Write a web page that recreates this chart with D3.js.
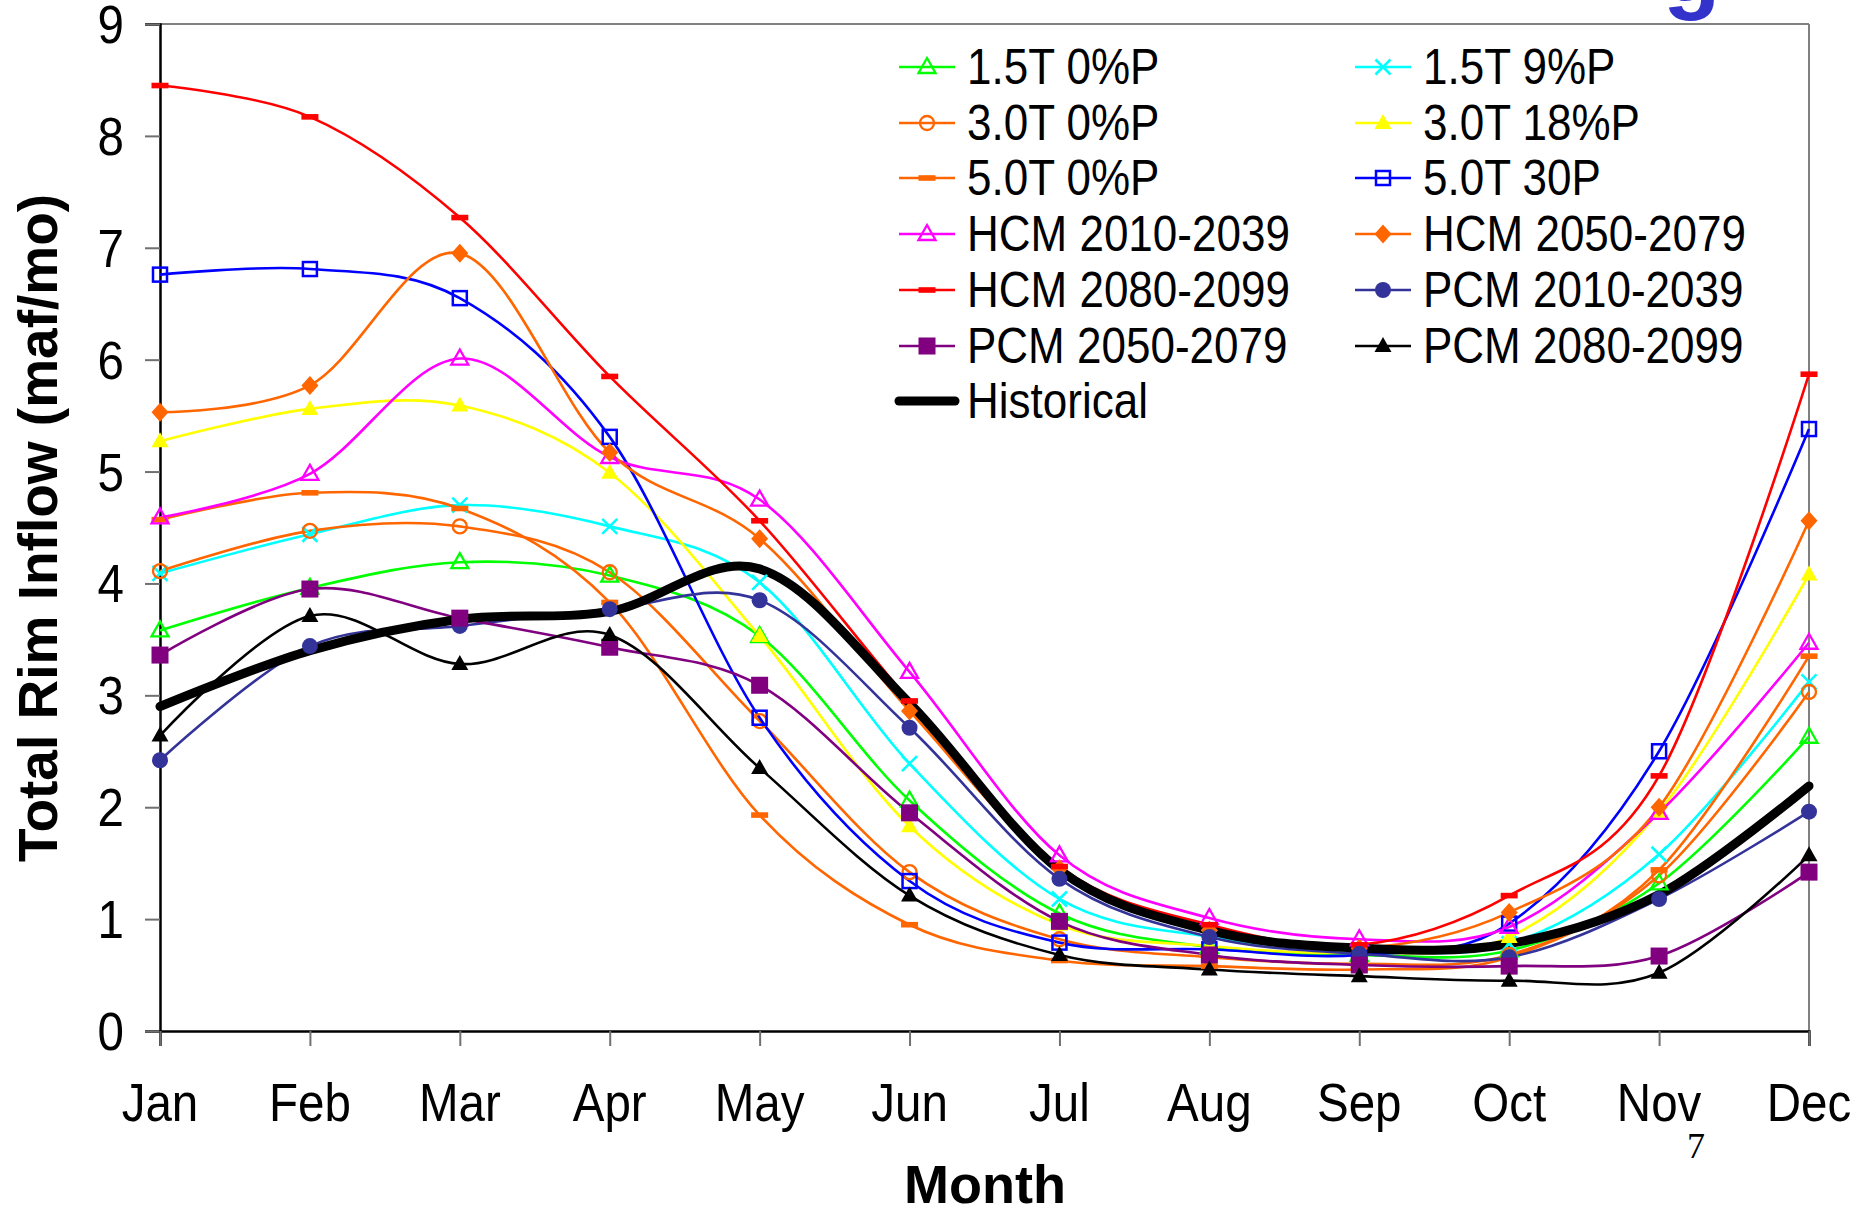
<!DOCTYPE html>
<html><head><meta charset="utf-8">
<script src="https://cdn.jsdelivr.net/npm/d3@7"></script>
<style>
html,body{margin:0;padding:0;background:#fff;}
svg{display:block;font-family:"Liberation Sans",Arial,sans-serif;}
</style></head>
<body><svg id="chart" width="1860" height="1209"></svg>
<script>
// ---------- data ----------
const months = ["Jan","Feb","Mar","Apr","May","Jun","Jul","Aug","Sep","Oct","Nov","Dec"];
const yTickValues = [0,1,2,3,4,5,6,7,8,9];

const t15p0  = [3.58, 3.96, 4.19, 4.07, 3.53, 2.06, 1.05, 0.75, 0.68, 0.72, 1.32, 2.63];
const t15p9  = [4.09, 4.44, 4.70, 4.51, 4.01, 2.39, 1.18, 0.84, 0.73, 0.78, 1.58, 3.12];
const t30p0  = [4.11, 4.47, 4.51, 4.10, 2.77, 1.42, 0.82, 0.66, 0.60, 0.68, 1.39, 3.03];
const t30p18 = [5.27, 5.56, 5.59, 4.99, 3.53, 1.83, 0.95, 0.76, 0.70, 0.84, 1.96, 4.08];
const t50p0  = [4.57, 4.81, 4.67, 3.83, 1.93, 0.95, 0.63, 0.58, 0.55, 0.66, 1.44, 3.35];
const t50p30 = [6.76, 6.81, 6.55, 5.31, 2.80, 1.34, 0.79, 0.73, 0.68, 0.96, 2.50, 5.38];
const hcm2010 = [4.59, 4.98, 6.01, 5.13, 4.75, 3.21, 1.57, 1.01, 0.82, 0.93, 1.95, 3.47];
const hcm2050 = [5.53, 5.77, 6.95, 5.17, 4.40, 2.86, 1.45, 0.90, 0.74, 1.06, 2.00, 4.56];
const hcm2080 = [8.45, 8.17, 7.27, 5.85, 4.56, 2.95, 1.47, 0.95, 0.77, 1.21, 2.28, 5.87];
const pcm2010 = [2.42, 3.44, 3.62, 3.77, 3.85, 2.71, 1.36, 0.84, 0.69, 0.66, 1.18, 1.96];
const pcm2050 = [3.36, 3.95, 3.69, 3.43, 3.09, 1.95, 0.98, 0.68, 0.59, 0.58, 0.67, 1.42];
const pcm2080 = [2.64, 3.71, 3.28, 3.54, 2.35, 1.21, 0.68, 0.55, 0.49, 0.45, 0.52, 1.57];
const historical = [2.90, 3.40, 3.68, 3.75, 4.13, 2.93, 1.44, 0.90, 0.74, 0.78, 1.22, 2.19];

const seriesNames = ["1.5T 0%P","1.5T 9%P","3.0T 0%P","3.0T 18%P","5.0T 0%P","5.0T 30P",
  "HCM 2010-2039","HCM 2050-2079","HCM 2080-2099","PCM 2010-2039","PCM 2050-2079","PCM 2080-2099","Historical"];
const seriesValues = [t15p0,t15p9,t30p0,t30p18,t50p0,t50p30,hcm2010,hcm2050,hcm2080,pcm2010,pcm2050,pcm2080,historical];

// ---------- styles ----------
const seriesColors = ["#00ff00","#00ffff","#ff6600","#ffff00","#ff6600","#0000ff",
  "#ff00ff","#ff6600","#ff0000","#333399","#800080","#000000","#000000"];
const seriesMarkers = ["triOpen","x","circOpen","triFill","dash","sqOpen",
  "triOpen","diamond","dash","circFill","sqFill","triFill","none"];

const svg = d3.select("#chart");
const L = 160, R = 1809, T = 24, B = 1031;
const x = d3.scalePoint().domain(months).range([L, R]).padding(0);
const y = d3.scaleLinear().domain([0, 9]).range([B, T]);
const CONDENSE = 0.88;

function condense(sel, f) {
  sel.each(function () {
    const w = this.getComputedTextLength();
    this.setAttribute("textLength", w * f);
    this.setAttribute("lengthAdjust", "spacingAndGlyphs");
  });
}

// plot border (top & right, gray)
svg.append("line").attr("x1", L - 15).attr("x2", R).attr("y1", T).attr("y2", T)
  .attr("stroke", "#808080").attr("stroke-width", 2);
svg.append("line").attr("x1", R).attr("x2", R).attr("y1", T).attr("y2", B)
  .attr("stroke", "#808080").attr("stroke-width", 2);

// axes
const yAxis = d3.axisLeft(y).tickValues(yTickValues).tickSize(15).tickFormat("");
const gy = svg.append("g").attr("transform", `translate(${L},0)`).call(yAxis);
gy.select(".domain").attr("stroke", "#000").attr("stroke-width", 2.5);
gy.selectAll(".tick line").attr("stroke", "#707070").attr("stroke-width", 2);

const xAxis = d3.axisBottom(x).tickSize(15).tickFormat("");
const gx = svg.append("g").attr("transform", `translate(0,${B})`).call(xAxis);
gx.select(".domain").attr("stroke", "#000").attr("stroke-width", 2.5);
gx.selectAll(".tick line").attr("stroke", "#707070").attr("stroke-width", 2);

// tick labels
svg.append("g").selectAll("text").data(yTickValues).join("text")
  .attr("x", 124).attr("y", d => y(d) + 19)
  .attr("text-anchor", "end").attr("font-size", 54).attr("fill", "#000")
  .text(d => d).call(condense, CONDENSE);
svg.append("g").selectAll("text").data(months).join("text")
  .attr("x", d => x(d)).attr("y", 1121)
  .attr("text-anchor", "middle").attr("font-size", 54).attr("fill", "#000")
  .text(d => d).call(condense, CONDENSE);

// axis titles
svg.append("text").attr("transform", "translate(57,528) rotate(-90)")
  .attr("text-anchor", "middle").attr("font-size", 55).attr("font-weight", "bold")
  .text("Total Rim Inflow (maf/mo)");
svg.append("text").attr("x", 985).attr("y", 1203)
  .attr("text-anchor", "middle").attr("font-size", 54).attr("font-weight", "bold")
  .text("Month");

// slide page number + title fragment
svg.append("text").attr("x", 1696).attr("y", 1158).attr("text-anchor", "middle")
  .attr("font-family", "'Liberation Serif','Times New Roman',serif").attr("font-size", 36).text("7");
svg.append("text").attr("x", 1663).attr("y", 1).attr("font-size", 94).attr("font-weight", "bold")
  .attr("fill", "#3333cc").text("g");

// markers
function drawMarker(g, type, color, cx, cy) {
  const m = g.append("g").attr("transform", `translate(${cx},${cy})`);
  const tri = "M0,-9L8.5,6L-8.5,6Z";
  switch (type) {
    case "triOpen": m.append("path").attr("d", tri).attr("fill", "none").attr("stroke", color).attr("stroke-width", 2.3); break;
    case "triFill": m.append("path").attr("d", tri).attr("fill", color); break;
    case "x": m.append("path").attr("d", "M-7.5,-7.5L7.5,7.5M-7.5,7.5L7.5,-7.5").attr("stroke", color).attr("stroke-width", 2.6); break;
    case "circOpen": m.append("circle").attr("r", 7).attr("fill", "none").attr("stroke", color).attr("stroke-width", 2.3); break;
    case "circFill": m.append("circle").attr("r", 8).attr("fill", color); break;
    case "dash": m.append("rect").attr("x", -8.5).attr("y", -2.8).attr("width", 17).attr("height", 5.6).attr("fill", color); break;
    case "sqOpen": m.append("rect").attr("x", -7).attr("y", -7).attr("width", 14).attr("height", 14).attr("fill", "none").attr("stroke", color).attr("stroke-width", 2.5); break;
    case "sqFill": m.append("rect").attr("x", -8.5).attr("y", -8.5).attr("width", 17).attr("height", 17).attr("fill", color); break;
    case "diamond": m.append("path").attr("d", "M0,-9.5L8.5,0L0,9.5L-8.5,0Z").attr("fill", color); break;
  }
}

// lines
const line = d3.line().x((d, i) => x(months[i])).y(d => y(d)).curve(d3.curveCardinal.tension(0));
const gLines = svg.append("g");
seriesValues.forEach((vals, s) => {
  const hist = seriesMarkers[s] === "none";
  gLines.append("path").datum(vals).attr("d", line)
    .attr("fill", "none").attr("stroke", seriesColors[s])
    .attr("stroke-width", hist ? 9 : 2.6)
    .attr("stroke-linecap", hist ? "round" : "butt")
    .attr("stroke-linejoin", "round");
});
const gMarks = svg.append("g");
seriesValues.forEach((vals, s) => {
  if (seriesMarkers[s] === "none") return;
  vals.forEach((v, i) => drawMarker(gMarks, seriesMarkers[s], seriesColors[s], x(months[i]), y(v)));
});

// legend
const legRowY = [67, 123, 178, 234, 290, 346, 401];
const legColX = [899, 1355];
const gLeg = svg.append("g");
seriesNames.forEach((name, s) => {
  const col = s % 2, row = Math.floor(s / 2);
  const lx = legColX[col], ly = legRowY[row];
  const hist = seriesMarkers[s] === "none";
  gLeg.append("line").attr("x1", lx).attr("x2", lx + 56).attr("y1", ly).attr("y2", ly)
    .attr("stroke", seriesColors[s]).attr("stroke-width", hist ? 9 : 2.6)
    .attr("stroke-linecap", hist ? "round" : "butt");
  if (!hist) drawMarker(gLeg, seriesMarkers[s], seriesColors[s], lx + 28, ly);
  gLeg.append("text").attr("x", lx + 68).attr("y", ly + 17)
    .attr("font-size", 50).attr("fill", "#000").text(name).call(condense, CONDENSE);
});
</script></body></html>
